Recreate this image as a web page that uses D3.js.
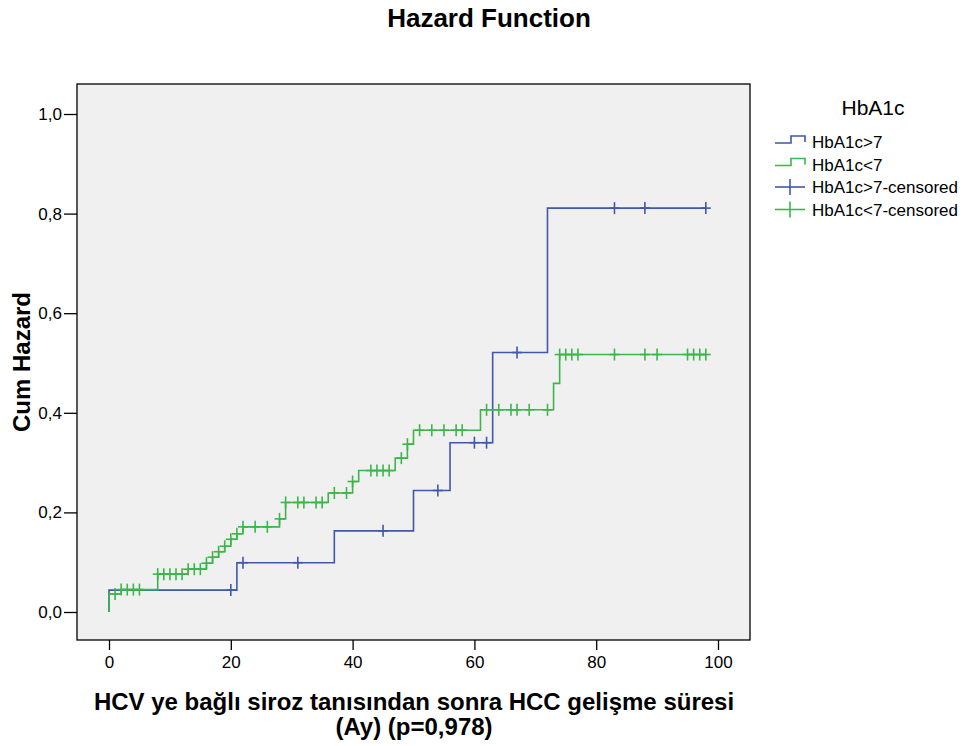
<!DOCTYPE html>
<html>
<head>
<meta charset="utf-8">
<script src="https://cdn.jsdelivr.net/npm/d3@7"></script>
<style>
  body { margin: 0; background: #fff; }
  svg { font-family: "Liberation Sans", Arial, sans-serif; }
</style>
</head>
<body>
<div id="chart"></div>
<script>
// HbA1c>7 (blue)
const blueEventT = [0, 21, 37, 50, 56, 63, 72];
const blueH = [0.044, 0.099, 0.163, 0.244, 0.340, 0.521, 0.811];
const blueEnd = 98;
const blueCensor = [20, 22, 31, 45, 54, 60, 62, 67, 83, 88, 98];

// HbA1c<7 (green)
const greenEventT = [0, 2, 8, 13, 16, 17, 18, 19, 20, 21, 22, 28, 29, 36, 40, 41, 47, 49, 50, 61, 73, 74];
const greenH = [0.036, 0.045, 0.076, 0.086, 0.098, 0.110, 0.121, 0.132, 0.146, 0.157, 0.171, 0.187, 0.220,
    0.239, 0.262, 0.284, 0.309, 0.337, 0.365, 0.406, 0.459, 0.517];
const greenEnd = 98;
const greenCensor = [1, 2, 3, 4, 5, 8, 9, 10, 11, 12, 13, 14, 15, 16, 17, 18, 19, 20, 21, 22, 24, 26, 28, 29,
    31, 32, 34, 35, 37, 39, 40, 43, 44, 45, 46, 48, 49, 51, 53, 55, 57, 58, 62, 64, 66, 67, 69, 72,
    74, 75, 76, 77, 83, 88, 90, 95, 96, 97, 98];

const xTicks = [0, 20, 40, 60, 80, 100];
const yTicks = [0, 0.2, 0.4, 0.6, 0.8, 1.0];
const seriesNames = ["HbA1c>7", "HbA1c<7"];

const width = 971, height = 746;
const blue = "#4058a8", green = "#3cb54a";

const svg = d3.select("#chart").append("svg")
    .attr("width", width)
    .attr("height", height);

const x = d3.scaleLinear().domain([0, 100]).range([109, 718]);
const y = d3.scaleLinear().domain([0, 1]).range([612, 114]);

// plot frame
const frame = { left: 77, top: 84, right: 750, bottom: 640 };
svg.append("rect")
    .attr("x", frame.left)
    .attr("y", frame.top)
    .attr("width", frame.right - frame.left)
    .attr("height", frame.bottom - frame.top)
    .attr("fill", "#f0f0f0")
    .attr("stroke", "#000")
    .attr("stroke-width", 1.3);

// Title
svg.append("text")
    .attr("x", 489)
    .attr("y", 27)
    .attr("text-anchor", "middle")
    .style("font-size", "26px")
    .style("font-weight", "bold")
    .text("Hazard Function");

// Axes
const yAxis = svg.append("g")
    .attr("transform", `translate(${frame.left},0)`)
    .call(d3.axisLeft(y).tickValues(yTicks).tickSize(13).tickPadding(2)
        .tickFormat(d => d3.format(".1f")(d).replace(".", ",")));
yAxis.select(".domain").remove();
yAxis.selectAll("text").style("font-size", "17px").attr("fill", "#000");
yAxis.selectAll("line").attr("stroke-width", 1.3);

const xAxis = svg.append("g")
    .attr("transform", `translate(0,${frame.bottom})`)
    .call(d3.axisBottom(x).tickValues(xTicks).tickSize(10).tickPadding(6));
xAxis.select(".domain").remove();
xAxis.selectAll("text").style("font-size", "17px").attr("fill", "#000");
xAxis.selectAll("line").attr("stroke-width", 1.3);

// Axis titles
svg.append("text")
    .attr("transform", "translate(30,362) rotate(-90)")
    .attr("text-anchor", "middle")
    .style("font-size", "24px")
    .style("font-weight", "bold")
    .text("Cum Hazard");

const xt = svg.append("text")
    .attr("text-anchor", "middle")
    .style("font-size", "24px")
    .style("font-weight", "bold");
xt.append("tspan").attr("x", 414).attr("y", 710)
    .text("HCV ye bağlı siroz tanısından sonra HCC gelişme süresi");
xt.append("tspan").attr("x", 414).attr("y", 735)
    .text("(Ay) (p=0,978)");

// Step curves
function stepPoints(times, hs, end) {
    const pts = [{ t: 0, h: 0 }];
    times.forEach((t, i) => pts.push({ t, h: hs[i] }));
    pts.push({ t: end, h: hs[hs.length - 1] });
    return pts;
}
function hazardAt(times, hs, t) {
    let v = 0;
    times.forEach((et, i) => { if (et <= t) v = hs[i]; });
    return v;
}

const line = d3.line()
    .x(d => x(d.t))
    .y(d => y(d.h))
    .curve(d3.curveStepAfter);

const series = [
    { name: seriesNames[0], color: blue, times: blueEventT, hs: blueH, end: blueEnd, censor: blueCensor },
    { name: seriesNames[1], color: green, times: greenEventT, hs: greenH, end: greenEnd, censor: greenCensor }
];

series.forEach(s => {
    svg.append("path")
        .datum(stepPoints(s.times, s.hs, s.end))
        .attr("d", line)
        .attr("fill", "none")
        .attr("stroke", s.color)
        .attr("stroke-width", 1.6);
});

series.forEach(s => {
    const g = svg.append("g")
        .attr("stroke", s.color)
        .attr("stroke-width", 1.6);
    s.censor.forEach(t => {
        const cx = x(t), cy = y(hazardAt(s.times, s.hs, t));
        g.append("line").attr("x1", cx).attr("x2", cx).attr("y1", cy - 6).attr("y2", cy + 6);
        g.append("line").attr("x1", cx - 5).attr("x2", cx + 5).attr("y1", cy).attr("y2", cy);
    });
});

// Legend
const legend = svg.append("g").attr("transform", "translate(775,0)");
legend.append("text")
    .attr("x", 98)
    .attr("y", 115)
    .attr("text-anchor", "middle")
    .style("font-size", "21px")
    .text("HbA1c");

const legendItems = [
    { label: seriesNames[0], color: blue, type: "step" },
    { label: seriesNames[1], color: green, type: "step" },
    { label: seriesNames[0] + "-censored", color: blue, type: "cross" },
    { label: seriesNames[1] + "-censored", color: green, type: "cross" }
];

legendItems.forEach((d, i) => {
    const cy = 142 + i * 22.5;
    const g = legend.append("g");
    if (d.type === "step") {
        g.append("path")
            .attr("d", `M0,${cy + 1} H16 V${cy - 6} H30 V${cy}`)
            .attr("fill", "none")
            .attr("stroke", d.color)
            .attr("stroke-width", 1.6);
    } else {
        g.append("line").attr("x1", 0).attr("x2", 30).attr("y1", cy).attr("y2", cy)
            .attr("stroke", d.color).attr("stroke-width", 1.6);
        g.append("line").attr("x1", 15).attr("x2", 15).attr("y1", cy - 8).attr("y2", cy + 8)
            .attr("stroke", d.color).attr("stroke-width", 1.6);
    }
    g.append("text")
        .attr("x", 37)
        .attr("y", cy + 6)
        .style("font-size", "17px")
        .text(d.label);
});
</script>
</body>
</html>
